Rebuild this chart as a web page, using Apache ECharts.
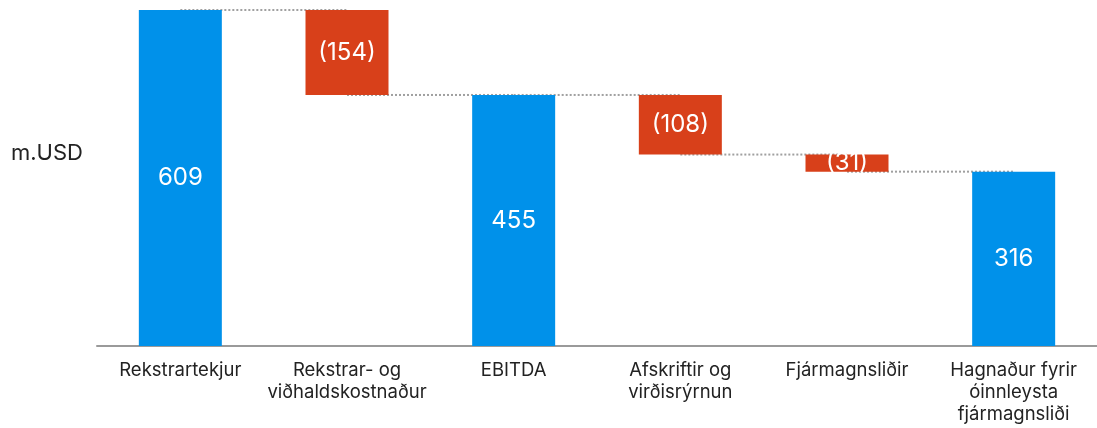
<!DOCTYPE html>
<html>
<head>
<meta charset="utf-8">
<script src="https://cdn.jsdelivr.net/npm/echarts@6/dist/echarts.min.js"></script>
<style>
  html, body { margin: 0; padding: 0; background: #fff; }
  #chart { width: 1097px; height: 428px; }
</style>
</head>
<body>
<div id="chart"></div>
<script>
var categories = ['Rekstrartekjur', 'Rekstrar- og\nviðhaldskostnaður', 'EBITDA', 'Afskriftir og\nvirðisrýrnun', 'Fjármagnsliðir', 'Hagnaður fyrir\nóinnleysta\nfjármagnsliði'];
var amounts = [609, 154, 455, 108, 31, 316];
var kinds = ['total', 'minus', 'total', 'minus', 'minus', 'total'];

var BLUE = '#0091EA';
var RED = '#D8401A';

// build waterfall base + visible parts, and connector levels
var baseData = [], barData = [], levels = [];
var level = 0;
for (var i = 0; i < amounts.length; i++) {
  if (kinds[i] == 'total') {
    level = amounts[i];
    baseData.push(0);
  } else {
    level = level - amounts[i];
    baseData.push(level);
  }
  barData.push({
    value: amounts[i],
    itemStyle: { color: kinds[i] == 'total' ? BLUE : RED },
    label: { formatter: kinds[i] == 'total' ? String(amounts[i]) : '(' + amounts[i] + ')' }
  });
  levels.push(level);
}
var connectors = [];
for (var j = 0; j < levels.length - 1; j++) {
  connectors.push([j, levels[j]]);
}

var myChart = echarts.init(document.getElementById('chart'));

var option = {
  animation: false,
  textStyle: { fontFamily: 'Inter, Roboto, sans-serif' },
  grid: { left: 97, width: 1009, top: 10, bottom: 82 },
  graphic: [{
    type: 'text',
    left: 11,
    top: 142,
    style: { text: 'm.USD', fontSize: 22, fill: '#222', fontFamily: 'Inter, Roboto, sans-serif' }
  }],
  xAxis: {
    type: 'category',
    data: categories,
    axisLine: { lineStyle: { color: '#9a9a9a', width: 2 } },
    axisTick: { show: false },
    axisLabel: { color: '#222', fontSize: 18.5, lineHeight: 22, margin: 13, interval: 0 }
  },
  yAxis: {
    type: 'value',
    min: 0,
    max: 609,
    show: false,
    splitLine: { show: false }
  },
  series: [
    {
      type: 'custom',
      z: 1,
      silent: true,
      renderItem: function (params, api) {
        var a = api.coord([api.value(0), api.value(1)]);
        var b = api.coord([api.value(0) + 1, api.value(1)]);
        return {
          type: 'line',
          shape: { x1: a[0], y1: a[1], x2: b[0], y2: b[1] },
          style: { stroke: '#a0a0a0', lineWidth: 2, lineDash: [2, 2] }
        };
      },
      data: connectors
    },
    {
      type: 'bar',
      stack: 'w',
      barWidth: 83,
      z: 2,
      itemStyle: { color: 'transparent' },
      data: baseData
    },
    {
      type: 'bar',
      stack: 'w',
      barWidth: 83,
      z: 2,
      label: { show: true, position: 'inside', color: '#fff', fontSize: 24 },
      data: barData
    }
  ]
};
myChart.setOption(option);
</script>
</body>
</html>
